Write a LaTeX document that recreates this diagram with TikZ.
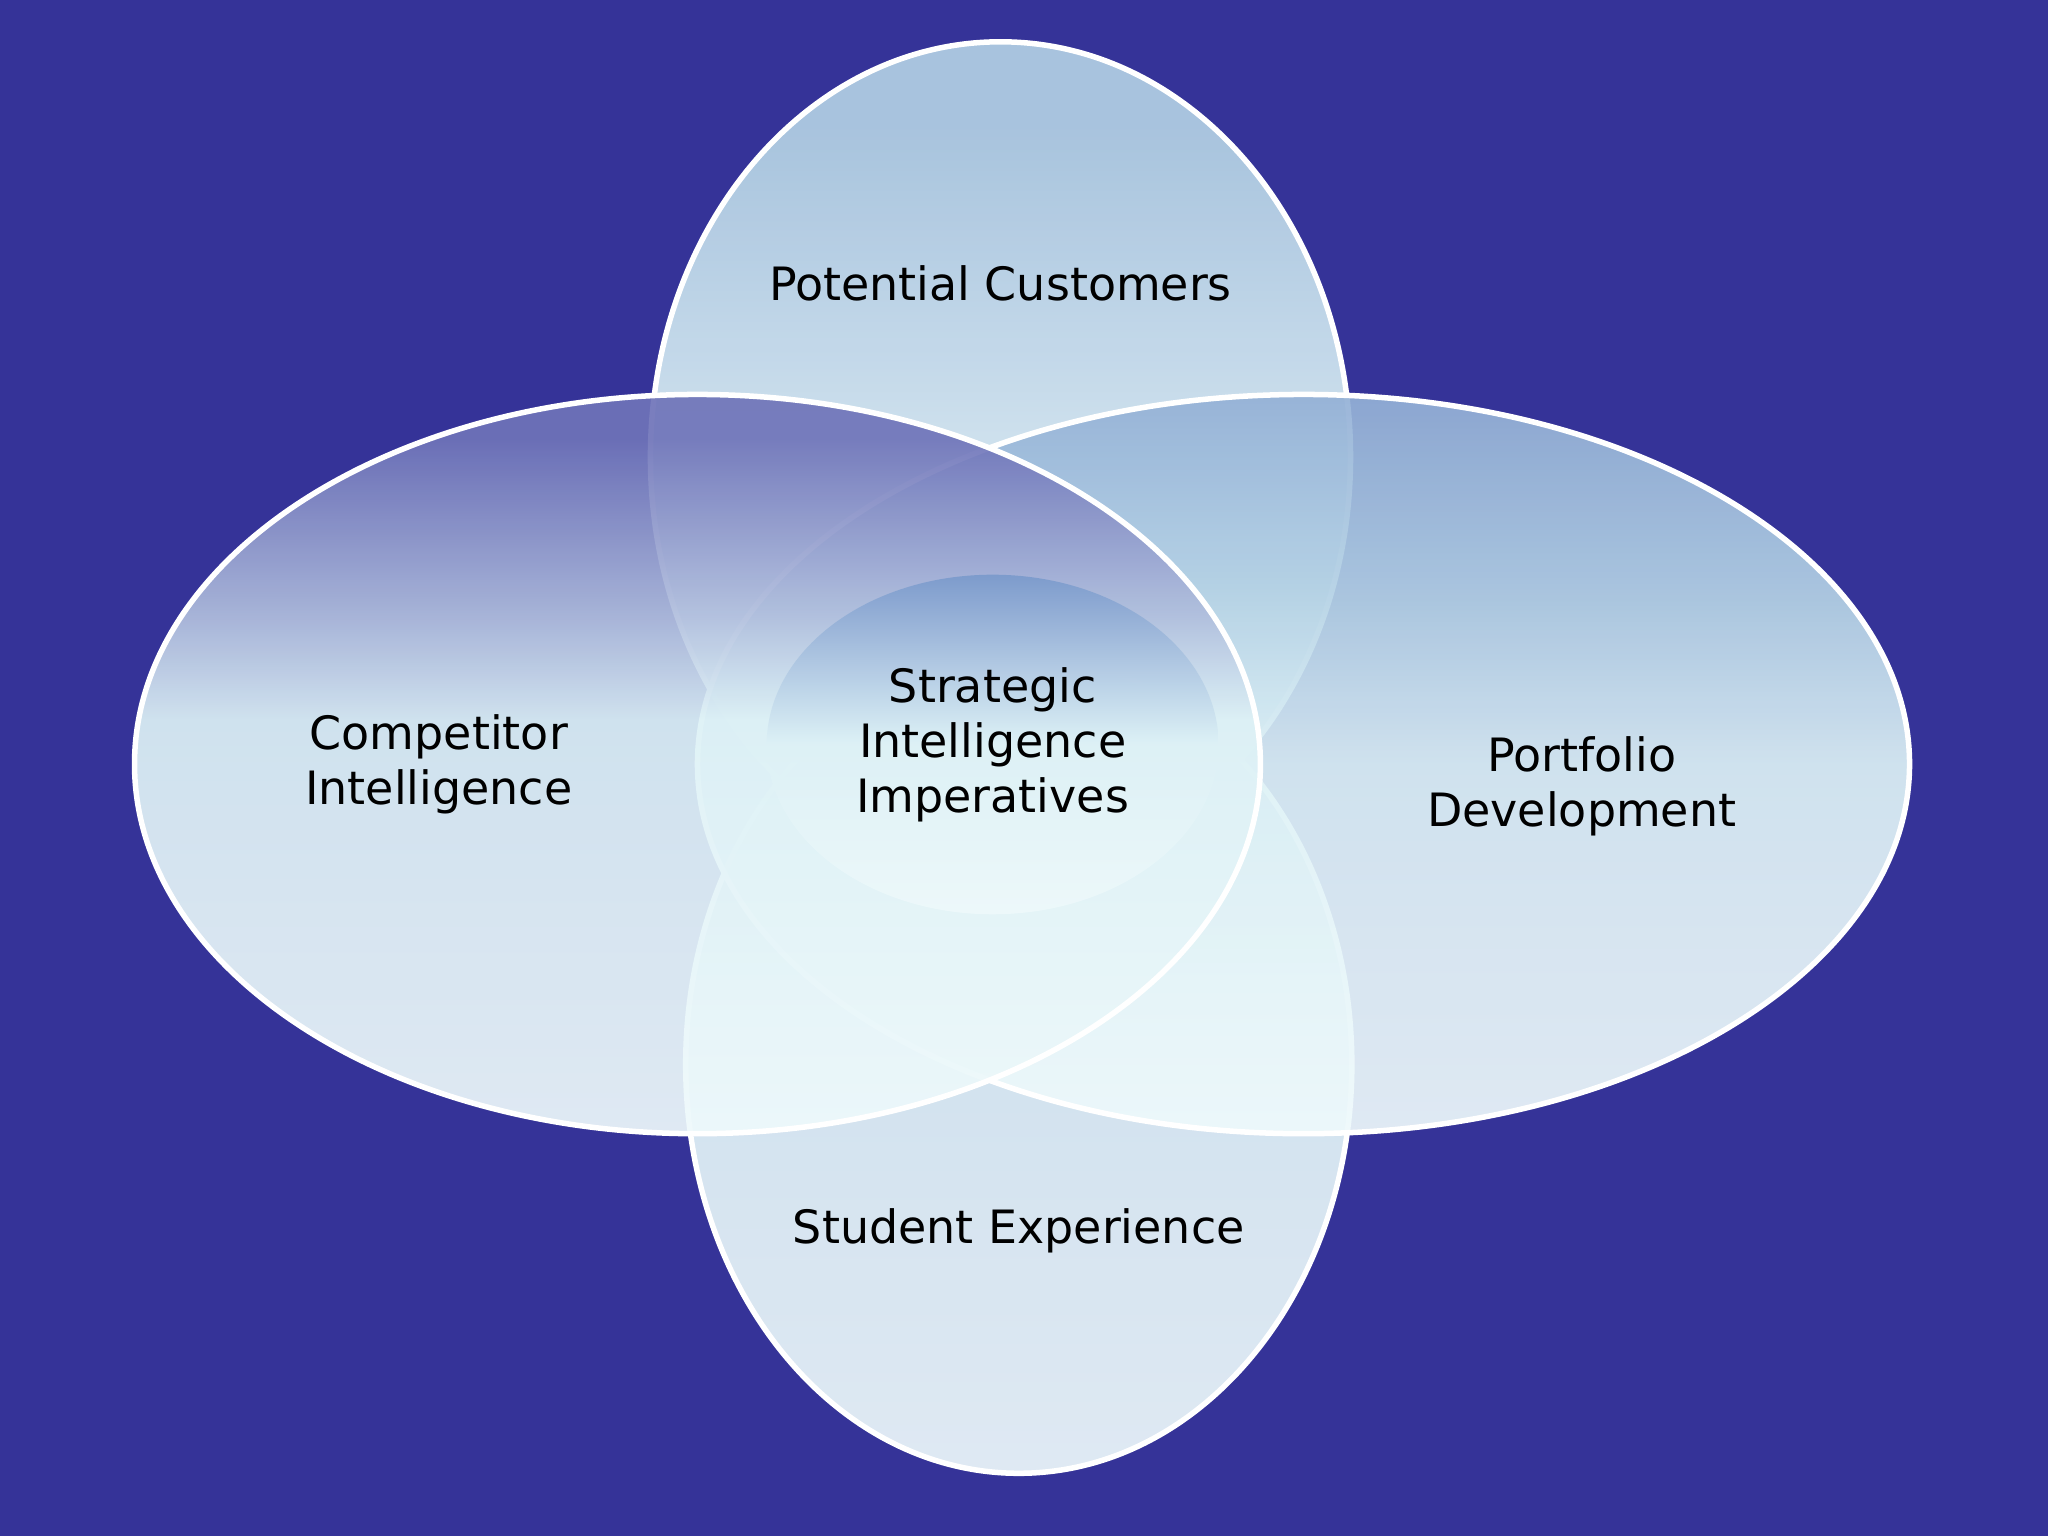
\documentclass[tikz,border=0pt]{standalone}
\usepackage{fontspec}
\setmainfont{DejaVu Sans}
\definecolor{bg}{HTML}{353398}
\definecolor{ctop}{HTML}{B2D0E4}
\definecolor{cmid}{HTML}{DDF1F6}
\definecolor{cbot}{HTML}{EEF9FB}
\definecolor{ltop}{HTML}{6F74B9}
\definecolor{itop}{HTML}{7C9ACC}
\definecolor{rtop}{HTML}{93B0D6}
\pgfdeclareverticalshading{shtop}{100bp}{color(0bp)=(cbot); color(25bp)=(cbot); color(50bp)=(cmid); color(70bp)=(ctop); color(100bp)=(ctop)}
\pgfdeclareverticalshading{shbot}{100bp}{color(0bp)=(cbot); color(25bp)=(cbot); color(55bp)=(cmid); color(70bp)=(ctop); color(100bp)=(ctop)}
\pgfdeclareverticalshading{shright}{100bp}{color(0bp)=(cbot); color(25bp)=(cbot); color(50bp)=(cmid); color(62bp)=(ctop); color(75bp)=(rtop); color(100bp)=(rtop)}
\pgfdeclareverticalshading{shleft}{100bp}{color(0bp)=(cbot); color(25bp)=(cbot); color(53bp)=(cmid); color(60bp)=(ltop!40!cmid); color(72bp)=(ltop); color(100bp)=(ltop)}
\pgfdeclareverticalshading{shin}{100bp}{color(0bp)=(cbot); color(25bp)=(cbot); color(50bp)=(cmid); color(75bp)=(itop); color(100bp)=(itop)}
\begin{document}
\begin{tikzpicture}[x=0.01cm,y=-0.01cm,
  ell/.style={draw=white,line width=1.2pt,fill opacity=0.92},
  lbl/.style={align=center,font=\fontsize{10}{12}\selectfont,text=black}]
\useasboundingbox[fill=bg] (0,0) rectangle (1568,1176);
\shade[ell,shading=shtop] (766,350) ellipse [x radius=268,y radius=318];
\shade[ell,shading=shbot] (780,815) ellipse [x radius=255,y radius=313];
\shade[ell,shading=shright] (998,585) ellipse [x radius=464,y radius=283];
\shade[ell,shading=shleft] (534,585) ellipse [x radius=431,y radius=283];
\shade[fill opacity=0.95,shading=shin] (760,570) ellipse [x radius=173,y radius=130];
\node[lbl] (pc) at (766,217) {Potential Customers};
\node[lbl] (ci) at (336,585) {Competitor\\Intelligence};
\node[lbl] (pd) at (1211,602) {Portfolio\\Development};
\node[lbl] (se) at (780,942) {Student Experience};
\node[lbl] (si) at (760,570) {Strategic\\Intelligence\\Imperatives};
\end{tikzpicture}
\end{document}
